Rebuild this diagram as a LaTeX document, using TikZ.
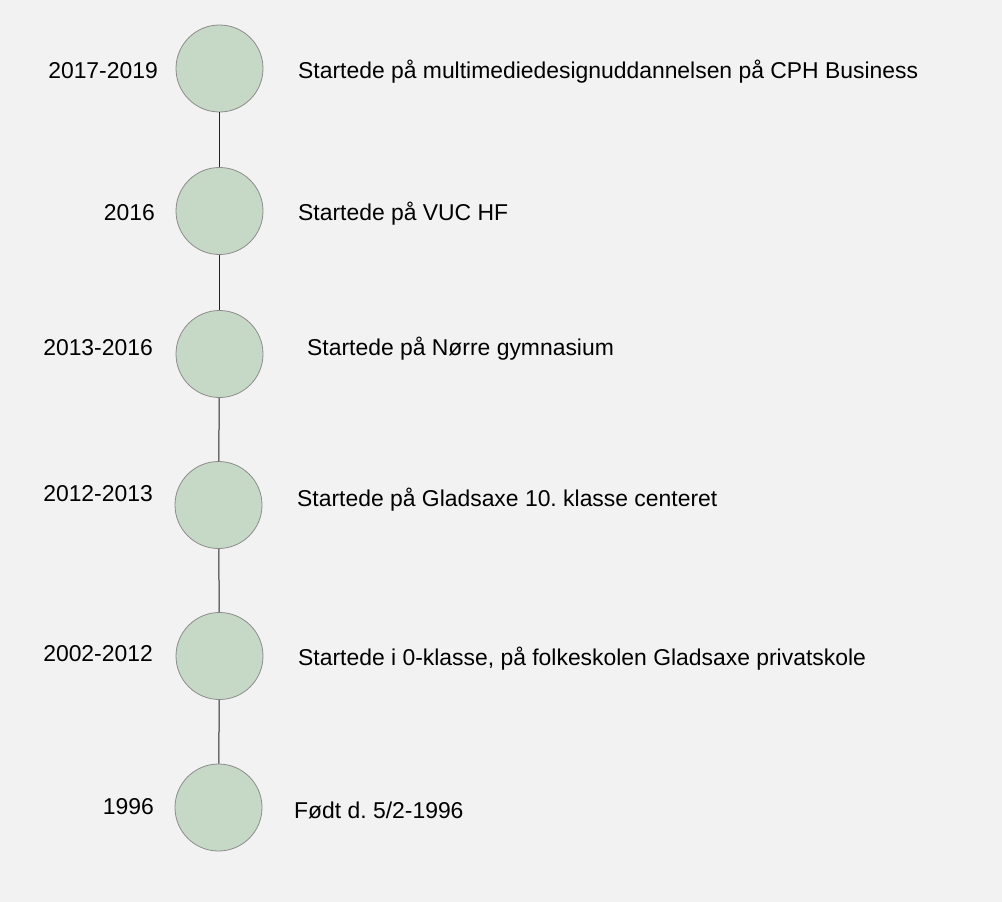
\documentclass[tikz,border=0pt]{standalone}
\usepackage{fontspec}
\setmainfont{Liberation Sans}
\frenchspacing
\definecolor{bg}{HTML}{F2F2F2}
\definecolor{dotfill}{HTML}{C6D9C6}
\definecolor{dotline}{HTML}{8C8C8C}
\definecolor{conn}{HTML}{222222}
\begin{document}
\begin{tikzpicture}[x=1pt,y=-1pt,
  dot/.style={circle,fill=dotfill,draw=dotline,line width=0.8pt,minimum size=87pt,inner sep=0pt},
  yearlbl/.style={anchor=base east,inner sep=0pt,font=\fontsize{22.9}{27}\selectfont,text=black},
  eventlbl/.style={anchor=base west,inner sep=0pt,font=\fontsize{22.9}{27}\selectfont,text=black},
  link/.style={draw=conn,line width=1pt}]
\fill[bg] (0,0) rectangle (1002,902);
\useasboundingbox (0,0) rectangle (1002,902);
\node[dot] (c1) at (219.5,68.5) {};
\node[dot] (c2) at (219.5,211) {};
\node[dot] (c3) at (219.5,354) {};
\node[dot] (c4) at (218.5,505) {};
\node[dot] (c5) at (219.5,656) {};
\node[dot] (c6) at (218.5,807.5) {};
\draw[link] (c1) -- (c2);
\draw[link] (c2) -- (c3);
\draw[link] (c3) -- (c4);
\draw[link] (c4) -- (c5);
\draw[link] (c5) -- (c6);
\node[yearlbl] (y1) at (158,78) {2017-2019};
\node[yearlbl] (y2) at (155,220) {2016};
\node[yearlbl] (y3) at (153,355) {2013-2016};
\node[yearlbl] (y4) at (153,501) {2012-2013};
\node[yearlbl] (y5) at (153,661) {2002-2012};
\node[yearlbl] (y6) at (154,814) {1996};
\node[eventlbl] (e1) at (298,78) {Startede på multimediedesignuddannelsen på CPH Business};
\node[eventlbl] (e2) at (298,220) {Startede på VUC HF};
\node[eventlbl] (e3) at (307,355) {Startede på Nørre gymnasium};
\node[eventlbl] (e4) at (297,506) {Startede på Gladsaxe 10. klasse centeret};
\node[eventlbl] (e5) at (298,665) {Startede i 0-klasse, på folkeskolen Gladsaxe privatskole};
\node[eventlbl] (e6) at (294,818) {Født d. 5/2-1996};
\end{tikzpicture}
\end{document}
